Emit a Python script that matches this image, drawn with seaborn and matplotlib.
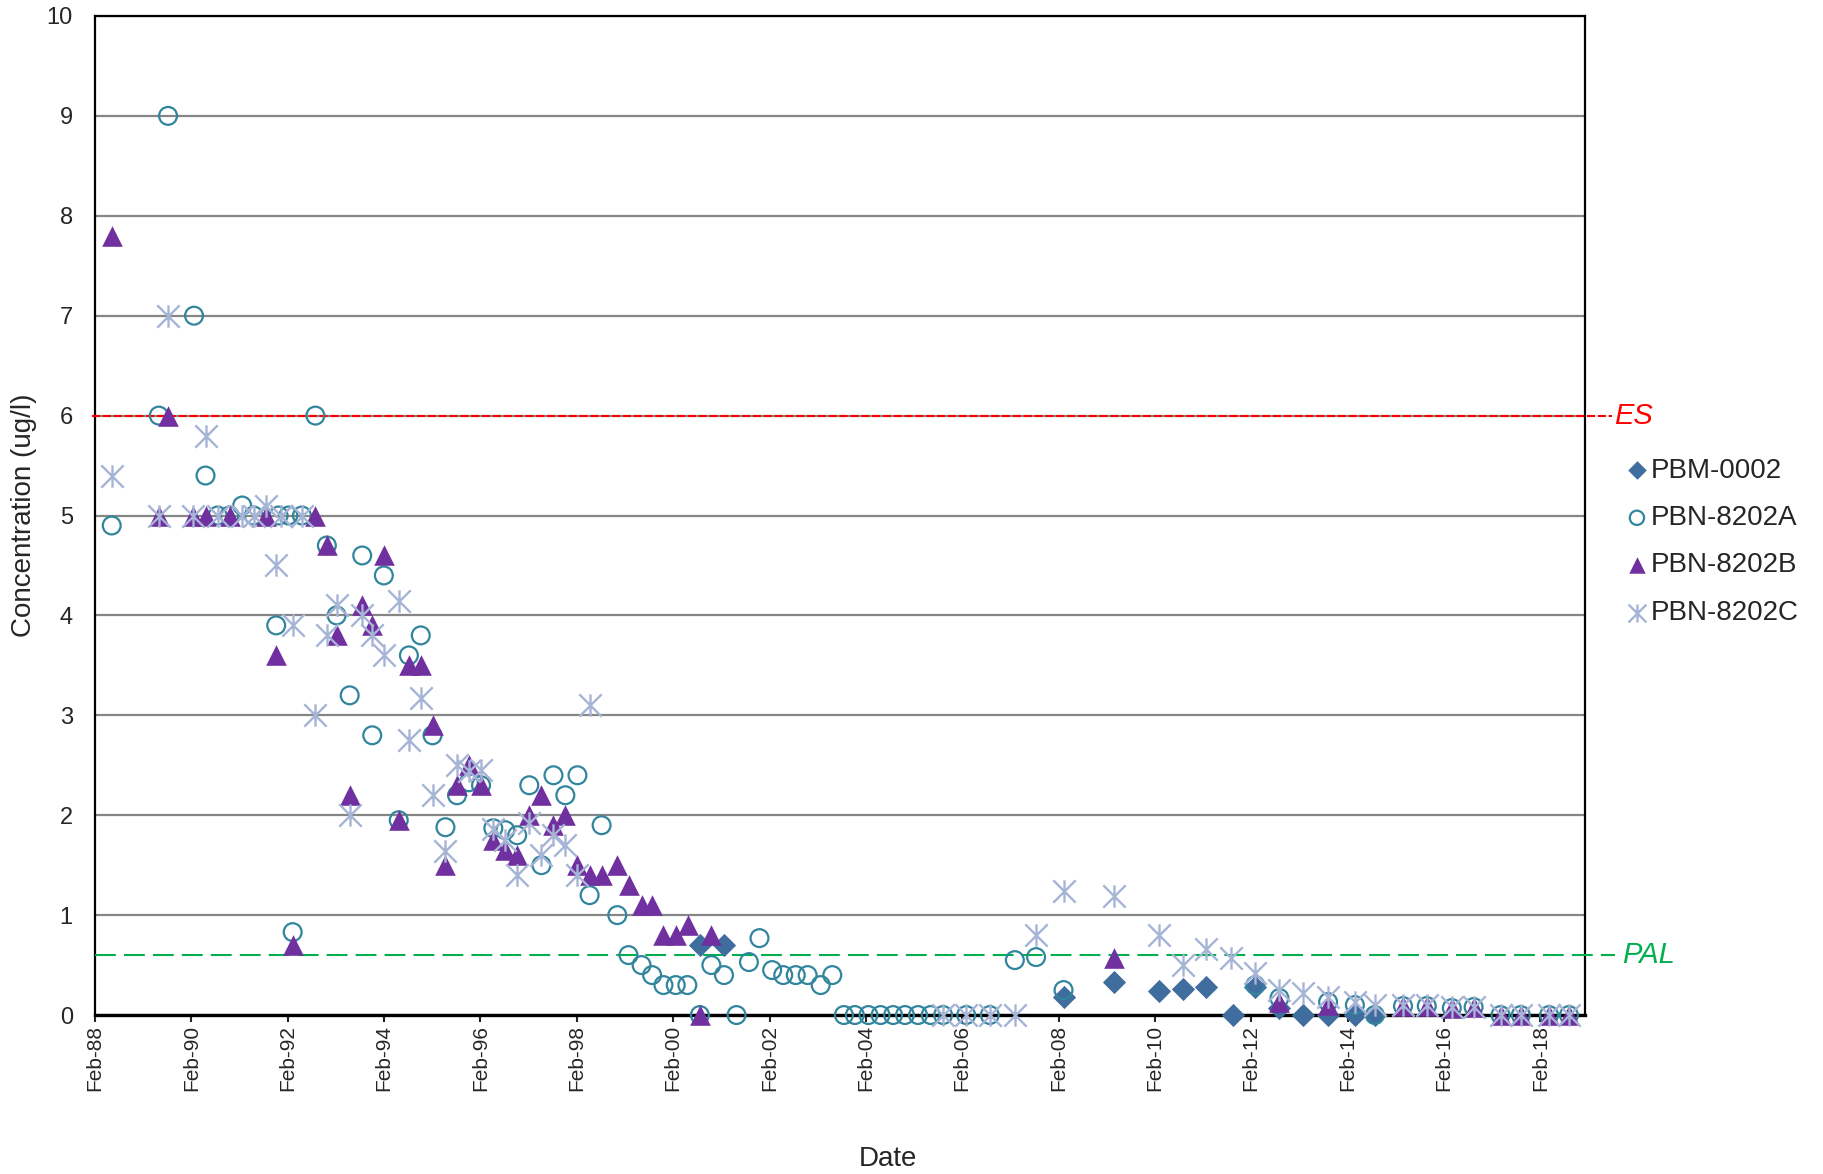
"""Concentration time series for PBM-0002 and PBN-8202A/B/C wells."""

import numpy as np
import pandas as pd
import matplotlib
matplotlib.use("Agg")
import matplotlib.pyplot as plt
import matplotlib.dates as mdates
from matplotlib.path import Path
import seaborn as sns

# ---- data ----
pbm_dates = ["2000-08-22", "2001-02-21", "2008-03-10", "2009-03-28", "2010-03-07",
             "2010-09-02", "2011-02-24", "2011-09-13", "2012-03-03", "2012-09-02",
             "2013-02-28", "2013-09-06", "2014-03-28", "2014-08-26"]
pbm_conc = [0.7, 0.7, 0.18, 0.33, 0.24, 0.26, 0.28, 0.0, 0.28, 0.07, 0.0, 0.0, 0.0, 0.0]

a_dates = ["1988-06-07", "1989-05-30", "1989-08-08", "1990-02-21", "1990-05-19",
           "1990-08-19", "1990-11-17", "1991-02-21", "1991-05-19", "1991-11-06",
           "1991-11-24", "1992-02-06", "1992-03-10", "1992-05-19", "1992-08-29",
           "1992-11-24", "1993-02-06", "1993-05-16", "1993-08-19", "1993-11-03",
           "1994-01-30", "1994-05-23", "1994-08-08", "1994-11-06", "1995-02-03",
           "1995-05-12", "1995-08-08", "1995-11-06", "1996-02-06", "1996-05-09",
           "1996-08-08", "1996-11-06", "1997-02-06", "1997-05-09", "1997-08-08",
           "1997-11-06", "1998-02-06", "1998-05-09", "1998-08-08", "1998-12-05",
           "1999-02-28", "1999-06-07", "1999-08-26", "1999-11-20", "2000-02-21",
           "2000-05-19", "2000-08-22", "2000-11-17", "2001-02-21", "2001-05-27",
           "2001-08-29", "2001-11-17", "2002-02-21", "2002-05-16", "2002-08-19",
           "2002-11-17", "2003-02-24", "2003-05-23", "2003-08-19", "2003-11-10",
           "2004-02-21", "2004-05-23", "2004-08-26", "2004-11-24", "2005-03-03",
           "2005-06-07", "2005-09-09", "2006-03-03", "2006-08-29", "2007-03-07",
           "2007-08-15", "2008-03-10", "2012-03-03", "2012-09-02", "2013-09-06",
           "2014-03-28", "2014-08-26", "2015-03-28", "2015-09-24", "2016-04-01",
           "2016-09-13", "2017-04-05", "2017-09-06", "2018-04-08", "2018-09-06"]
a_conc = [4.9, 6.0, 9.0, 7.0, 5.4, 5.0, 5.0, 5.1, 5.0, 3.9,
          5.0, 5.0, 0.83, 5.0, 6.0, 4.7, 4.0, 3.2, 4.6, 2.8,
          4.4, 1.95, 3.6, 3.8, 2.8, 1.88, 2.2, 2.33, 2.3, 1.87,
          1.85, 1.8, 2.3, 1.5, 2.4, 2.2, 2.4, 1.2, 1.9, 1.0,
          0.6, 0.5, 0.4, 0.3, 0.3, 0.3, 0.0, 0.5, 0.4, 0.0,
          0.53, 0.77, 0.45, 0.4, 0.4, 0.4, 0.3, 0.4, 0.0, 0.0,
          0.0, 0.0, 0.0, 0.0, 0.0, 0.0, 0.0, 0.0, 0.0, 0.55,
          0.58, 0.25, 0.3, 0.17, 0.13, 0.1, 0.0, 0.09, 0.09, 0.07,
          0.08, 0.0, 0.0, 0.0, 0.0]

b_dates = ["1988-06-07", "1989-05-30", "1989-08-08", "1990-02-14", "1990-05-19",
           "1990-11-17", "1991-08-19", "1991-11-06", "1992-03-10", "1992-08-29",
           "1992-11-24", "1993-02-06", "1993-05-16", "1993-08-19", "1993-11-03",
           "1994-01-30", "1994-05-23", "1994-08-08", "1994-11-06", "1995-02-03",
           "1995-05-12", "1995-08-08", "1995-11-06", "1996-02-06", "1996-05-09",
           "1996-08-08", "1996-11-06", "1997-02-06", "1997-05-09", "1997-08-08",
           "1997-11-06", "1998-02-06", "1998-05-09", "1998-08-08", "1998-12-05",
           "1999-02-28", "1999-06-07", "1999-08-26", "1999-11-20", "2000-02-21",
           "2000-05-27", "2000-08-22", "2000-11-17", "2009-03-28", "2012-09-02",
           "2013-09-06", "2015-03-28", "2015-09-24", "2016-04-01", "2016-09-13",
           "2017-04-05", "2017-09-06", "2018-04-08", "2018-09-06"]
b_conc = [7.8, 5.0, 6.0, 5.0, 5.0, 5.0, 5.0, 3.6, 0.7, 5.0,
          4.7, 3.8, 2.2, 4.1, 3.9, 4.6, 1.95, 3.5, 3.5, 2.9,
          1.5, 2.3, 2.5, 2.3, 1.75, 1.65, 1.6, 2.0, 2.2, 1.9,
          2.0, 1.5, 1.4, 1.4, 1.5, 1.3, 1.1, 1.1, 0.8, 0.8,
          0.9, 0.0, 0.8, 0.57, 0.13, 0.1, 0.09, 0.09, 0.07, 0.08,
          0.0, 0.0, 0.0, 0.0]

c_dates = ["1988-06-07", "1989-05-30", "1989-08-08", "1990-02-14", "1990-05-19",
           "1990-08-19", "1991-02-21", "1991-05-19", "1991-08-19", "1991-11-06",
           "1991-12-12", "1992-03-10", "1992-05-19", "1992-08-29", "1992-11-24",
           "1993-02-06", "1993-05-16", "1993-08-19", "1993-11-03", "1994-01-30",
           "1994-05-23", "1994-08-08", "1994-11-06", "1995-02-03", "1995-05-12",
           "1995-08-08", "1995-11-06", "1996-02-06", "1996-05-09", "1996-08-08",
           "1996-11-06", "1997-02-06", "1997-05-09", "1997-08-08", "1997-11-06",
           "1998-02-06", "1998-05-09", "2005-09-09", "2006-03-03", "2006-08-29",
           "2007-03-07", "2007-08-15", "2008-03-10", "2009-03-28", "2010-03-07",
           "2010-09-02", "2011-02-24", "2011-09-02", "2012-03-03", "2012-09-02",
           "2013-02-28", "2013-09-06", "2014-03-28", "2014-08-26", "2015-03-28",
           "2015-09-24", "2016-04-01", "2016-09-13", "2017-04-05", "2017-09-06",
           "2018-04-08", "2018-09-06"]
c_conc = [5.4, 5.0, 7.0, 5.0, 5.8, 5.0, 5.0, 5.0, 5.1, 4.5,
          5.0, 3.9, 5.0, 3.0, 3.8, 4.1, 2.0, 4.0, 3.8, 3.6,
          4.14, 2.75, 3.17, 2.2, 1.64, 2.5, 2.44, 2.45, 1.86, 1.75,
          1.4, 1.92, 1.6, 1.8, 1.7, 1.4, 3.1, 0.0, 0.0, 0.0,
          0.0, 0.8, 1.24, 1.19, 0.8, 0.5, 0.66, 0.57, 0.42, 0.25,
          0.22, 0.18, 0.13, 0.1, 0.1, 0.1, 0.08, 0.08, 0.0, 0.0,
          0.0, 0.0]

ES_LIMIT = 6.0
PAL_LIMIT = 0.6
Y_TICKS = list(range(0, 11))

# asterisk like the spreadsheet one: vertical bar plus an X
ASTERISK = Path([(0, -1), (0, 1), (-1, -1), (1, 1), (-1, 1), (1, -1)],
                [Path.MOVETO, Path.LINETO] * 3)


def main():
    sns.set_style("white")
    plt.rcParams["font.family"] = ["Liberation Sans", "DejaVu Sans"]

    fig = plt.figure(figsize=(18.23, 11.74), dpi=100)
    ax = fig.add_axes([0.0521, 0.1354, 0.8173, 0.851])

    series = [
        ("PBM-0002", pbm_dates, pbm_conc,
         dict(marker="D", s=140, color="#3F6D9E", edgecolor="#3F6D9E", linewidth=0)),
        ("PBN-8202A", a_dates, a_conc,
         dict(marker="o", s=165, color="#31859C", facecolor="none",
              edgecolor="#31859C", linewidth=1.6)),
        ("PBN-8202B", b_dates, b_conc,
         dict(marker="^", s=220, color="#7030A0", edgecolor="#7030A0", linewidth=0)),
        ("PBN-8202C", c_dates, c_conc,
         dict(marker=ASTERISK, s=260, color="#A6B4D6", edgecolor="#A6B4D6",
              linewidth=1.7)),
    ]
    for i, (name, dates, conc, style) in enumerate(series):
        df = pd.DataFrame({"Date": pd.to_datetime(dates), "Conc": conc})
        sns.scatterplot(data=df, x="Date", y="Conc", ax=ax, label=name,
                        zorder=5 + i, clip_on=False, **style)

    # horizontal grid
    ax.set_ylim(0, 10)
    ax.set_yticks(Y_TICKS)
    ax.grid(axis="y", color="#868686", linewidth=1.6)
    ax.grid(axis="x", visible=False)
    ax.set_axisbelow(True)

    # standards
    trans = ax.get_yaxis_transform()
    ax.plot([-0.002, 1.018], [ES_LIMIT, ES_LIMIT], transform=trans, color="#FF0000",
            linewidth=1.5, dashes=(3.9, 1.3), clip_on=False, zorder=4)
    ax.text(1.0195, ES_LIMIT, "ES", transform=trans, color="#FF0000", fontsize=21,
            fontstyle="italic", ha="left", va="center")
    ax.plot([0, 1.020], [PAL_LIMIT, PAL_LIMIT], transform=trans, color="#00B050",
            linewidth=1.5, dashes=(10, 3.9), clip_on=False, zorder=4)
    ax.text(1.025, PAL_LIMIT, "PAL", transform=trans, color="#00B050", fontsize=21,
            fontstyle="italic", ha="left", va="center")

    # date axis
    ax.set_xlim(pd.Timestamp("1988-02-01"), pd.Timestamp("2019-01-05"))
    ax.xaxis.set_major_locator(mdates.YearLocator(base=2, month=2, day=1))
    ax.xaxis.set_major_formatter(mdates.DateFormatter("%b-%y"))
    plt.setp(ax.get_xticklabels(), rotation=90)
    ax.tick_params(axis="x", direction="out", length=5, width=1.5, labelsize=15,
                   bottom=True, pad=2)
    ax.tick_params(axis="y", length=0, labelsize=17, pad=16)

    for side in ["left", "right", "top"]:
        ax.spines[side].set_color("black")
        ax.spines[side].set_linewidth(1.6)
    ax.spines["bottom"].set_color("black")
    ax.spines["bottom"].set_linewidth(2.4)

    ax.set_xlabel("Date", fontsize=20)
    ax.xaxis.set_label_coords(0.532, -0.131)
    ax.set_ylabel("Concentration (ug/l)", fontsize=20, labelpad=7)

    ax.legend(loc="upper left", bbox_to_anchor=(1.020, 0.569), frameon=False,
              fontsize=20, handletextpad=0.1, labelspacing=0.77, borderaxespad=0,
              handlelength=0.8, markerscale=0.8)

    fig.savefig("out.png", dpi=100, facecolor="white")
    plt.close(fig)


if __name__ == "__main__":
    main()
